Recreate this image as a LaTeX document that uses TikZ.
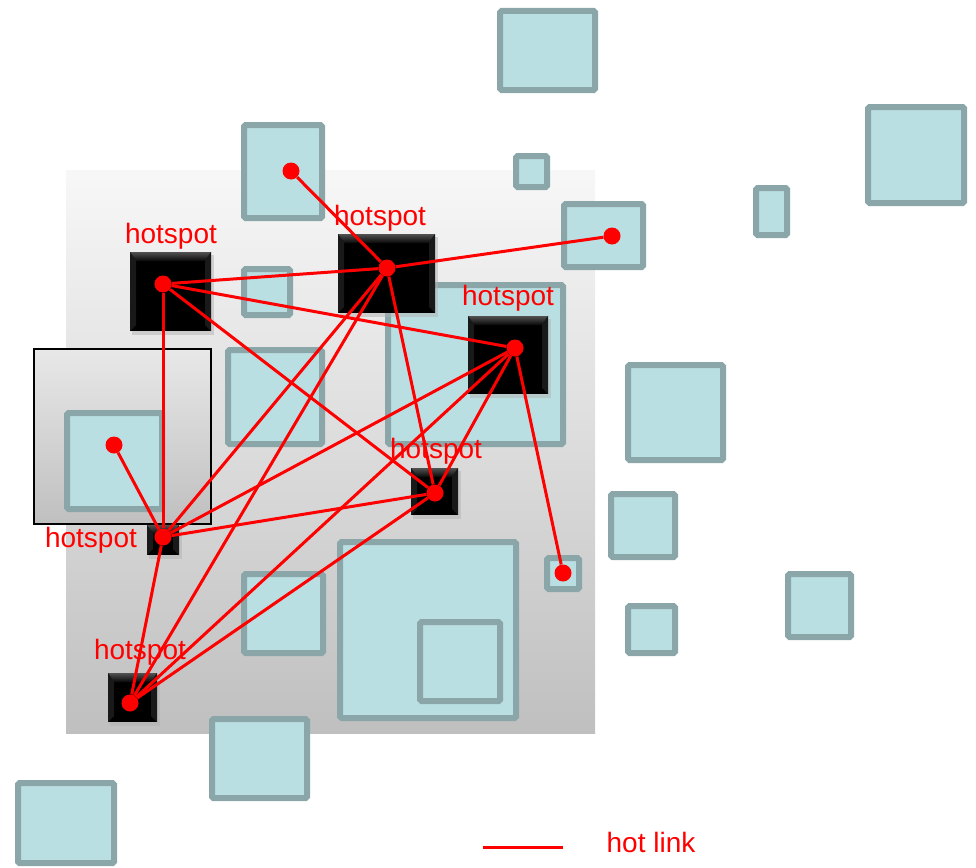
\documentclass[tikz,border=0pt]{standalone}
\usepackage{fontspec}
\setmainfont{Liberation Sans}
\usetikzlibrary{calc}

\definecolor{tilefill}{HTML}{B9DFE3}
\definecolor{tileedge}{HTML}{8AA6A9}
\definecolor{linkred}{HTML}{FF0000}

\tikzset{
  tile/.style={draw=tileedge, fill=tilefill, line width=6pt, rounded corners=1.5pt},
  link/.style={draw=linkred, line width=3pt},
  hdot/.style={circle, fill=linkred, inner sep=0pt, minimum size=17pt},
  hlabel/.style={text=linkred, font=\fontsize{28}{30}\selectfont, inner sep=0pt, anchor=base},
}

% black bevelled hotspot block: \hotbox{x1}{y1}{x2}{y2}
\newcommand\hotbox[4]{%
  \fill[black!30, opacity=0.5] (#1+2,#2+3) rectangle (#3+3,#4+4);
  \fill[black] (#1,#2) rectangle (#3,#4);
  \shade[top color=black!68, bottom color=black!97]
    (#1,#2) -- (#3,#2) -- (#3-6,#2+9) -- (#1+6,#2+9) -- cycle;
  \fill[black!90] (#1,#2) -- (#1+6,#2+9) -- (#1+6,#4-6) -- (#1,#4) -- cycle;
  \fill[black!90] (#3,#2) -- (#3-6,#2+9) -- (#3-6,#4-6) -- (#3,#4) -- cycle;
}

\begin{document}
\begin{tikzpicture}[x=1pt, y=-1pt]
\useasboundingbox (0,0) rectangle (976,867);

% shaded ground
\shade[top color=black!3, middle color=black!9, bottom color=black!25]
  (66,170) rectangle (595,733);

% framed zone on the left
\shade[top color=black!9, bottom color=black!25, draw=black, line width=2.8pt]
  (34,349) rectangle (211,524);

% tiles
\draw[tile] (500,11) rectangle (595,90);
\draw[tile] (244,125) rectangle (322,218);
\draw[tile] (516,156) rectangle (547,187);
\draw[tile] (564,204) rectangle (643,267);
\draw[tile] (868,107) rectangle (964,203);
\draw[tile] (756,188) rectangle (787,235);
\draw[tile] (244,269) rectangle (290,315);
\draw[tile] (388,285) rectangle (563,444);
\draw[tile] (228,350) rectangle (322,444);
\draw[tile] (67,413) rectangle (162,509);
\draw[tile] (628,365) rectangle (723,460);
\draw[tile] (611,494) rectangle (675,557);
\draw[tile] (547,558) rectangle (579,589);
\draw[tile] (628,606) rectangle (675,653);
\draw[tile] (788,574) rectangle (851,637);
\draw[tile] (244,574) rectangle (323,653);
\draw[tile] (340,542) rectangle (516,718);
\draw[tile] (420,622) rectangle (500,701);
\draw[tile] (212,719) rectangle (307,798);
\draw[tile] (18,783) rectangle (114,863);

% hotspot blocks
\hotbox{130}{252}{211}{331}
\hotbox{338}{234}{435}{313}
\hotbox{468}{316}{548}{394}
\hotbox{411}{468}{458}{515}
\hotbox{147}{525}{179}{555}
\hotbox{108}{673}{157}{722}

% labels
\node[hlabel] (l1) at (171,243) {hotspot};
\node[hlabel] (l2) at (380,225) {hotspot};
\node[hlabel] (l3) at (508,305) {hotspot};
\node[hlabel] (l4) at (436,458) {hotspot};
\node[hlabel] (l5) at (91,547) {hotspot};
\node[hlabel] (l6) at (140,659) {hotspot};

% end points
\node[hdot] (h1) at (163,284) {};
\node[hdot] (h2) at (387,268) {};
\node[hdot] (h3) at (515,348) {};
\node[hdot] (h4) at (435,493) {};
\node[hdot] (h5) at (163,537) {};
\node[hdot] (h6) at (130,703) {};
\node[hdot] (d1) at (291,171) {};
\node[hdot] (d2) at (612,236) {};
\node[hdot] (d3) at (114,445) {};
\node[hdot] (d4) at (563,573) {};

% hot links
\draw[link] (d1) -- (h2);
\draw[link] (h2) -- (d2);
\draw[link] (h1) -- (h2);
\draw[link] (h1) -- (h3);
\draw[link] (h1) -- (h4);
\draw[link] (h1) -- (h5);
\draw[link] (h2) -- (h4);
\draw[link] (h2) -- (h5);
\draw[link] (h2) -- (h6);
\draw[link] (h3) -- (h4);
\draw[link] (h3) -- (h5);
\draw[link] (h3) -- (h6);
\draw[link] (h3) -- (d4);
\draw[link] (h4) -- (h5);
\draw[link] (h4) -- (h6);
\draw[link] (h5) -- (h6);
\draw[link] (h5) -- (d3);

% legend
\coordinate (ka) at (483,847);
\coordinate (kb) at (563,847);
\draw[link] (ka) -- (kb);
\node[hlabel] (key) at (651,852) {hot link};
\end{tikzpicture}
\end{document}
